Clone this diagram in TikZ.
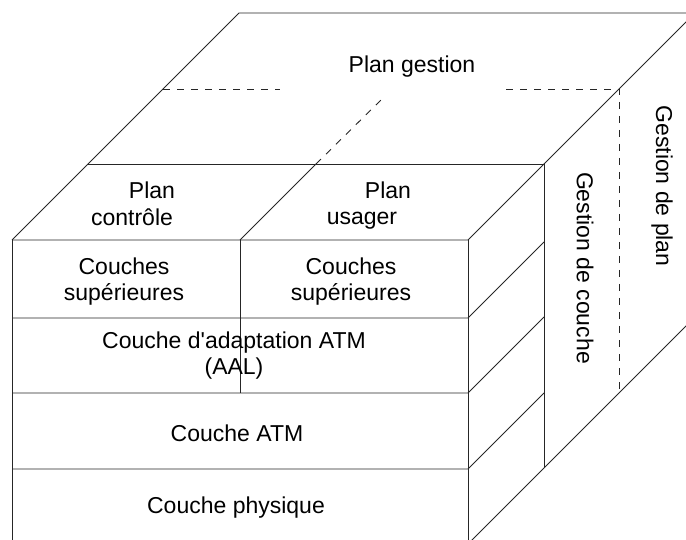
\documentclass[tikz,border=0pt]{standalone}
\usepackage{fontspec}
\setmainfont{Liberation Sans}
\begin{document}
\begin{tikzpicture}[x=1pt,y=-1pt,
  edge/.style={draw=black!85, line width=0.9pt},
  hidden/.style={draw=black!85, line width=0.9pt, dash pattern=on 7pt off 7pt},
  lbl/.style={font=\fontsize{23}{26}\selectfont, align=center, inner sep=0pt}]
\useasboundingbox (0,0) rectangle (686,540);
\clip (0,0) rectangle (686,540);
% corners
\coordinate (ftl) at (12,240);
\coordinate (ftr) at (468,240);
\coordinate (fbl) at (12,560);
\coordinate (fbr) at (468,560);
\coordinate (btl) at (239,13);
\coordinate (btr) at (700,13);
\coordinate (mtl) at (87,164);
\coordinate (mtr) at (544,164);
\coordinate (mbr) at (544,468);
\coordinate (div) at (240,240);
\coordinate (divm) at (316,164);
\coordinate (divb) at (384,97);
% top face
\draw[edge] (ftl) -- (btl) -- (btr);
\draw[edge] (mtr) -- (700,8);
\draw[edge] (mtl) -- (mtr);
\draw[edge] (ftl) -- (ftr) -- (mtr);
\draw[edge] (div) -- (divm);
\draw[hidden] (divm) -- (divb);
\draw[hidden] (163,89) -- (280,89);
\draw[hidden] (506,89) -- (619,89) -- (619,390);
% front face
\draw[edge] (fbl) -- (ftl);
\draw[edge] (ftr) -- (fbr);
\draw[edge] (12,318) -- (468,318) -- (544,242);
\draw[edge] (12,393) -- (468,393) -- (544,317);
\draw[edge] (12,469) -- (468,469) -- (544,393);
\draw[edge] (div) -- (240,393);
% right face
\draw[edge] (mtr) -- (mbr);
\draw[edge] (466,546) -- (mbr) -- (700,312);
% labels
\node[lbl] (pg) at (412,67) {Plan gestion};
\node[lbl] (pc1) at (152,190) {Plan};
\node[lbl] (pc2) at (132,217) {contrôle};
\node[lbl] (pu1) at (388,190) {Plan};
\node[lbl] (pu2) at (362,221) {usager};
\node[lbl] (csl) at (124,282) {Couches\\supérieures};
\node[lbl] (csr) at (351,282) {Couches\\supérieures};
\node[lbl] (aal) at (234,356) {Couche d\textquotesingle adaptation ATM\\(AAL)};
\node[lbl] (atm) at (237,433) {Couche ATM};
\node[lbl] (phy) at (236,508) {Couche physique};
\node[lbl, rotate=-90] (gc) at (585,268) {Gestion de couche};
\node[lbl, rotate=-90] (gp) at (662,186) {Gestion de plan};
\end{tikzpicture}
\end{document}
